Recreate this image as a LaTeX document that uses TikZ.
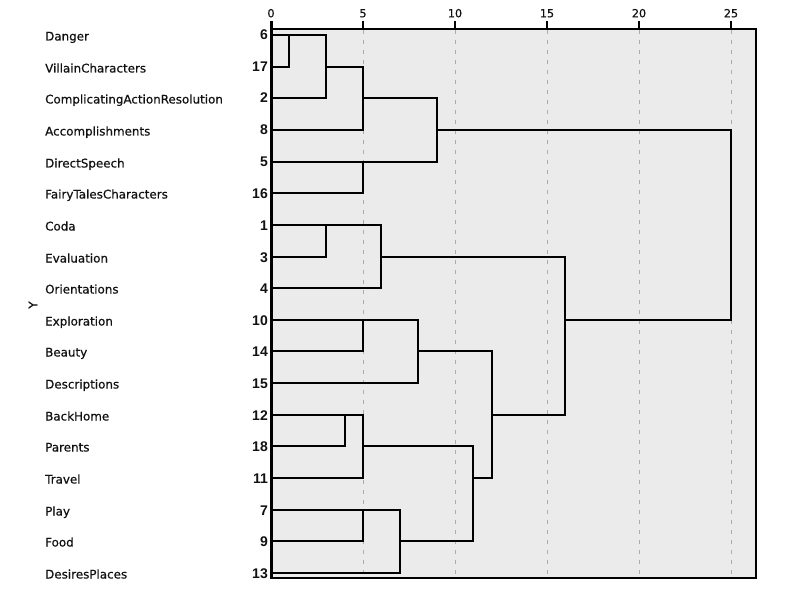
\documentclass[tikz,border=0pt]{standalone}
\usepackage{fontspec}
\setmainfont{DejaVu Sans}
\newfontfamily\namefont[FakeBold=0.5]{DejaVu Sans}
\newfontfamily\numfont{Liberation Sans}
\definecolor{plotbg}{HTML}{EBEBEB}
\definecolor{gridgray}{HTML}{ABABAB}
\definecolor{ink}{HTML}{111111}
\newcommand\px[1]{round(271+18.4*#1)}
\newcommand\ry[1]{round(35+31.65*#1)}
\newcommand\mrg[5]{\draw[dend] ({\px{#3}},{\ry{#2}}) -- ({\px{#1}},{\ry{#2}}) -- ({\px{#1}},{\ry{#4}}) -- ({\px{#5}},{\ry{#4}});}
\begin{document}
\begin{tikzpicture}[x=1pt,y=-1pt,
  frame/.style={draw=black,line width=2pt},
  gridline/.style={draw=gridgray,line width=1pt,dash pattern=on 4pt off 6pt},
  tickmark/.style={draw=black,line width=2pt},
  ticklabel/.style={anchor=base,inner sep=0pt,font=\namefont\fontsize{11.2}{13}\selectfont,text=ink},
  leafname/.style={anchor=base west,inner sep=0pt,font=\namefont\fontsize{11.9}{14}\selectfont,text=ink},
  leafnum/.style={anchor=base east,inner sep=0pt,font=\numfont\fontsize{14}{16}\selectfont\bfseries,text=ink},
  dend/.style={draw=black,line width=2pt,line join=miter}]
\useasboundingbox (0,0) rectangle (800,604);
\fill[white] (0,0) rectangle (800,604);
% plot area
\draw[frame,fill=plotbg] (271,29) rectangle (756,578);
\foreach \v in {5,10,15,20,25} \draw[gridline] ({\px{\v}+0.5},30) -- ({\px{\v}+0.5},577);
\foreach \v in {0,5,10,15,20,25} {
  \draw[tickmark] ({\px{\v}},21) -- ({\px{\v}},29);
  \node[ticklabel] (tick\v) at ({\px{\v}},17.3) {\v};
}
\draw[line width=3pt] (271,21) -- (271,579);
% leaves
\foreach \i/\name/\num in {0/Danger/6,1/VillainCharacters/17,2/ComplicatingActionResolution/2,3/Accomplishments/8,4/DirectSpeech/5,5/FairyTalesCharacters/16,6/Coda/1,7/Evaluation/3,8/Orientations/4,9/Exploration/10,10/Beauty/14,11/Descriptions/15,12/BackHome/12,13/Parents/18,14/Travel/11,15/Play/7,16/Food/9,17/DesiresPlaces/13} {
  \node[leafname] (name\i) at (45,{\ry{\i}+5.5}) {\name};
  \node[leafnum] (num\i) at (268,{\ry{\i}+5}) {\num};
  \coordinate (leaf\i) at (271,{\ry{\i}});
}
\node[rotate=90,inner sep=0pt,font=\namefont\fontsize{12}{14}\selectfont,text=ink] (ylab) at (33,305) {Y};
% dendrogram: value, rowA, startA, rowB, startB
\mrg{1}{0}{0}{1}{0}
\mrg{3}{0}{1}{2}{0}
\mrg{5}{1}{3}{3}{0}
\mrg{5}{4}{0}{5}{0}
\mrg{9}{2}{5}{4}{5}
\mrg{3}{6}{0}{7}{0}
\mrg{6}{6}{3}{8}{0}
\mrg{5}{9}{0}{10}{0}
\mrg{8}{9}{5}{11}{0}
\mrg{4}{12}{0}{13}{0}
\mrg{5}{12}{4}{14}{0}
\mrg{5}{15}{0}{16}{0}
\mrg{7}{15}{5}{17}{0}
\mrg{11}{13}{5}{16}{7}
\mrg{12}{10}{8}{14}{11}
\mrg{16}{7}{6}{12}{12}
\mrg{25}{3}{9}{9}{16}
\end{tikzpicture}
\end{document}
